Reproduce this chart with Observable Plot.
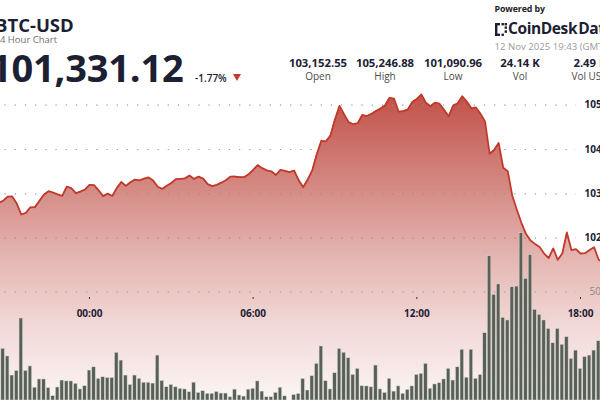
<!DOCTYPE html>
<html><head><meta charset="utf-8">
<script src="https://cdn.jsdelivr.net/npm/d3@7"></script>
<script src="https://cdn.jsdelivr.net/npm/@observablehq/plot@0.6"></script>
<style>
html,body{margin:0;padding:0;background:#fff;}
#wrap{position:relative;width:600px;height:400px;overflow:hidden;font-family:"Open Sans",sans-serif;color:#1b2033;}
#price,#vol{position:absolute;left:0;top:0;}
.abs{position:absolute;white-space:nowrap;line-height:1;}
.sv{font-weight:700;font-size:11.3px;transform:translateX(-50%);color:#1b2033;}
.sl{font-size:10px;transform:translateX(-50%);color:#4a4a4a;}
</style></head><body>
<div id="wrap">
  <div id="price"></div>
  <div id="vol"></div>
  <div id="header"></div>
</div>
<script>
// ---- data (10-minute points, GMT) ----
const startTime = "2025-11-11T20:40:00Z";
const stepMinutes = 10;
const prices = [
102794,102843,102938,102940,102780,102534,102570,102697,102701,102843,
102985,103060,103026,102988,102954,103161,103128,103017,103049,103098,
103204,103197,103080,102949,103006,102952,103130,103267,103179,103261,
103322,103306,103342,103371,103299,103159,103112,103182,103245,103331,
103340,103349,103412,103337,103389,103344,103220,103175,103202,103252,
103308,103389,103391,103378,103376,103441,103540,103649,103579,103531,
103509,103425,103540,103516,103491,103527,103310,103150,103324,103531,
103899,104197,104183,104316,104684,104984,104795,104619,104571,104594,
104779,104756,104804,104869,104926,104995,105167,105147,104853,104867,
104901,105070,105140,105240,105059,104977,105059,105034,104894,104750,
104993,105045,105201,105081,104930,104948,104806,104635,103906,103989,
104147,103588,103511,102956,102640,102347,102099,101948,101871,101799,
101652,101553,101769,101512,101654,102128,101733,101751,101654,101661,
101733,101796,101514,101451];
const volumes = [
130,238,203,115,136,378,136,157,59,97,
97,57,20,60,92,88,88,77,51,66,
138,153,100,107,104,104,220,184,115,72,
115,100,82,82,78,207,90,61,72,61,
54,51,38,82,35,43,31,31,39,32,
32,15,50,23,18,50,54,88,41,15,
15,35,59,19,0,25,30,99,46,112,
169,249,89,51,126,238,220,195,118,146,
66,65,61,161,51,35,100,41,65,31,
49,65,118,123,169,54,74,80,97,146,
92,153,234,105,234,100,118,310,665,487,
535,381,369,522,525,771,561,671,418,395,
369,330,264,330,257,292,192,230,146,200,
207,230,273,172];
const priceTicks = [102000,103000,104000,105000];
const volumeTicks = [500];
const viewStart = "2025-11-11T20:44:15Z";
const viewEnd = "2025-11-12T18:44:00Z";
const priceView = [98338, 107362];
const volumeView = [0, 500];

const symbol = "BTC-USD";
const subtitle = "24 Hour Chart";
const lastPrice = "101,331.12";
const changePct = "-1.77%";
const statValues = ["103,152.55","105,246.88","101,090.96","24.14 K","2.49 B"];
const statLabels = ["Open","High","Low","Vol","Vol USD"];
const statCenters = [318,385,453,520,590];
const poweredBy = "Powered by";
const brand = "CoinDesk Data";
const stamp = "12 Nov 2025 19:43 (GMT)";

// ---- build ----
const t0 = new Date(startTime).getTime();
const data = prices.map((p,i)=>({t:new Date(t0+i*stepMinutes*60000), p, v:volumes[i]}));
const xDomain = [new Date(viewStart), new Date(viewEnd)];
const half = stepMinutes*30000;

const gradDefs = () => {
  const d = d3.create("svg:defs");
  const g = d.append("linearGradient").attr("id","areaGrad").attr("x1",0).attr("x2",0).attr("y1",0).attr("y2",1);
  [[0,0.88],[0.3,0.6],[0.55,0.36],[0.75,0.2],[1,0.05]].forEach(([o,a])=>
    g.append("stop").attr("offset",o).attr("stop-color","#b83a30").attr("stop-opacity",a));
  return d.node();
};

const grid = {stroke:"#8f8f8f", strokeOpacity:0.9, strokeWidth:1.2, strokeDasharray:"1.2,9", strokeDashoffset:-4.5};

const pricePlot = Plot.plot({
  width:600, height:400, marginTop:0, marginBottom:0, marginLeft:0, marginRight:24,
  style:{background:"#fff", overflow:"hidden"},
  x:{type:"utc", domain:xDomain, range:[0,600], axis:null},
  y:{domain:priceView, range:[400,0]},
  marks:[
    gradDefs,
    Plot.areaY(data,{x:"t", y1:priceView[0], y2:"p", fill:"url(#areaGrad)"}),
    Plot.gridY(priceTicks, grid),
    Plot.lineY(data,{x:"t", y:"p", stroke:"#c0392b", strokeWidth:1.8}),
    Plot.axisY(priceTicks,{anchor:"right", label:null, tickSize:0, tickPadding:8, tickFormat:d3.format(","), fontWeight:"bold", fontSize:10, fill:"#1b2033", fontFamily:"Open Sans"})
  ]
});
document.getElementById("price").append(pricePlot);

const volPlot = Plot.plot({
  width:600, height:400, marginTop:0, marginBottom:103, marginLeft:0, marginRight:24,
  style:{background:"transparent", overflow:"visible"},
  x:{type:"utc", domain:xDomain, range:[0,600]},
  y:{domain:volumeView, range:[400,291.5]},
  marks:[
    Plot.gridY(volumeTicks, grid),
    Plot.rectY(data.filter(d=>d.v>0),{x1:d=>new Date(+d.t-half), x2:d=>new Date(+d.t+half), y:"v",
      fill:"#596056", stroke:"#d9dbd5", strokeWidth:0.5, insetLeft:0.5, insetRight:0.5}),
    Plot.axisY(volumeTicks,{anchor:"right", label:null, tickSize:0, tickPadding:13, fontSize:10, fill:"#8a8a8a", fontFamily:"Open Sans"}),
    Plot.axisX({ticks:d3.utcHour.every(6), label:null, tickFormat:d3.utcFormat("%H:%M"), tickSize:2, tickPadding:10,
      fontWeight:"bold", fontSize:10, fill:"#1b2033", stroke:"#333", fontFamily:"Open Sans"})
  ]
});
document.getElementById("vol").append(volPlot);

// ---- header ----
const h = document.getElementById("header");
function add(text, css, cls){ const e=document.createElement("div"); e.className="abs "+(cls||""); e.textContent=text; Object.assign(e.style,css); h.append(e); return e; }
add(symbol,{left:"-5px",top:"15.5px",fontSize:"18.5px",fontWeight:"700",color:"#1b2033",lineHeight:"0.95"});
add(subtitle,{left:"-5.5px",top:"35px",fontSize:"9.5px",color:"#6f6f6f",lineHeight:"0.95"});
add(lastPrice,{left:"-10px",top:"48px",fontSize:"38px",fontWeight:"700",color:"#1b2033",letterSpacing:"-0.2px"});
add(changePct,{left:"195px",top:"72.8px",fontSize:"10px",fontWeight:"600",color:"#1b2033"});
const tri=document.createElement("div"); tri.className="abs";
Object.assign(tri.style,{left:"233.3px",top:"74.3px",width:"0",height:"0",borderLeft:"4.7px solid transparent",borderRight:"4.7px solid transparent",borderTop:"7.5px solid #c0392b"});
h.append(tri);
statValues.forEach((v,i)=>{
  add(v,{left:statCenters[i]+"px",top:"56.8px"},"sv");
  add(statLabels[i],{left:statCenters[i]+"px",top:"71.2px"},"sl");
});
add(poweredBy,{left:"494.5px",top:"5.2px",fontSize:"8.8px",fontWeight:"700",color:"#222",letterSpacing:"-0.1px"});
const logo=document.createElementNS("http://www.w3.org/2000/svg","svg");
logo.setAttribute("width","12"); logo.setAttribute("height","13");
logo.style.position="absolute"; logo.style.left="495px"; logo.style.top="23px";
logo.innerHTML='<rect x="0" y="0" width="2.4" height="13" fill="#1b2033"/><rect x="0" y="0" width="5" height="2.4" fill="#1b2033"/><rect x="0" y="10.6" width="5" height="2.4" fill="#1b2033"/><rect x="6.5" y="0" width="2.4" height="2.4" fill="#1b2033"/><rect x="9.6" y="0" width="2.4" height="2.4" fill="#1b2033"/><rect x="9.6" y="3.4" width="2.4" height="2.4" fill="#1b2033"/><rect x="9.6" y="7.4" width="2.4" height="2.4" fill="#1b2033"/><rect x="6.5" y="10.6" width="2.4" height="2.4" fill="#1b2033"/>';
h.append(logo);
add(brand,{left:"508px",top:"20.5px",fontSize:"15.5px",fontWeight:"700",color:"#1b2033",letterSpacing:"-0.4px",wordSpacing:"-2.5px"});
add(stamp,{left:"494.5px",top:"42.2px",fontSize:"9.6px",color:"#9b9b9b"});
</script>
</body></html>
